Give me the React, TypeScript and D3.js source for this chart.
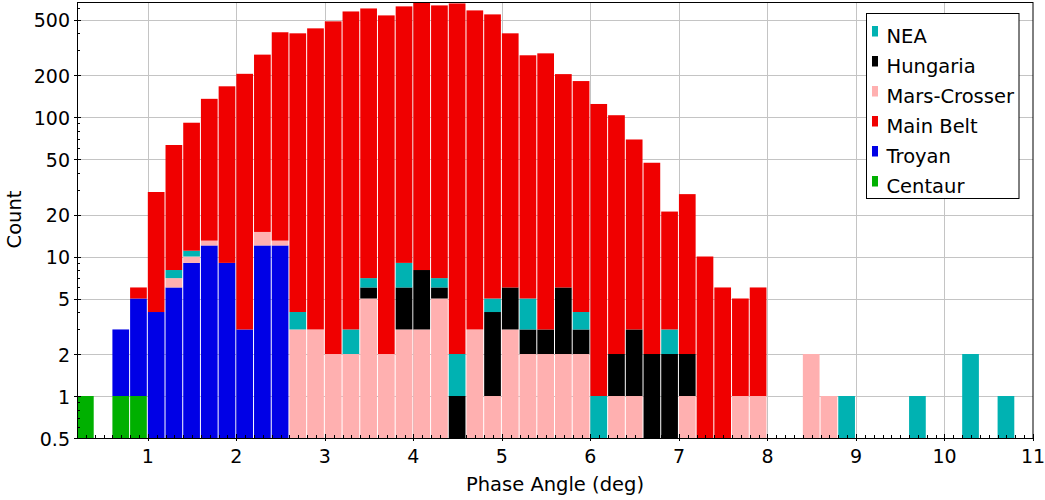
import React from 'react';
import * as d3 from 'd3';

// Histogram bins (start of each 0.2° bin)
const binStarts = [0.2, 0.4, 0.6, 0.8, 1.0, 1.2, 1.4, 1.6, 1.8, 2.0, 2.2, 2.4, 2.6, 2.8, 3.0, 3.2, 3.4, 3.6, 3.8, 4.0,
  4.2, 4.4, 4.6, 4.8, 5.0, 5.2, 5.4, 5.6, 5.8, 6.0, 6.2, 6.4, 6.6, 6.8, 7.0, 7.2, 7.4, 7.6, 7.8, 8.0,
  8.2, 8.4, 8.6, 8.8, 9.0, 9.2, 9.4, 9.6, 9.8, 10.0, 10.2, 10.4, 10.6, 10.8];
const binWidth = 0.2;

const centaur = [1, 0, 1, 1, 0, 0, 0, 0, 0, 0, 0, 0, 0, 0, 0, 0, 0, 0, 0, 0,
  0, 0, 0, 0, 0, 0, 0, 0, 0, 0, 0, 0, 0, 0, 0, 0, 0, 0, 0, 0,
  0, 0, 0, 0, 0, 0, 0, 0, 0, 0, 0, 0, 0, 0];
const troyan = [0, 0, 2, 4, 4, 6, 9, 12, 9, 3, 12, 12, 0, 0, 0, 0, 0, 0, 0, 0,
  0, 0, 0, 0, 0, 0, 0, 0, 0, 0, 0, 0, 0, 0, 0, 0, 0, 0, 0, 0,
  0, 0, 0, 0, 0, 0, 0, 0, 0, 0, 0, 0, 0, 0];
const marsCrosser = [0, 0, 0, 0, 0, 1, 1, 1, 0, 0, 3, 1, 3, 3, 2, 2, 5, 2, 3, 3,
  5, 0, 3, 1, 3, 2, 2, 2, 2, 0, 1, 1, 0, 0, 1, 0, 0, 1, 1, 0,
  0, 2, 1, 0, 0, 0, 0, 0, 0, 0, 0, 0, 0, 0];
const hungaria = [0, 0, 0, 0, 0, 0, 0, 0, 0, 0, 0, 0, 0, 0, 0, 0, 1, 0, 3, 5,
  1, 1, 0, 3, 3, 1, 1, 4, 1, 0, 1, 2, 2, 2, 1, 0, 0, 0, 0, 0,
  0, 0, 0, 0, 0, 0, 0, 0, 0, 0, 0, 0, 0, 0];
const nea = [0, 0, 0, 0, 0, 1, 1, 0, 0, 0, 0, 0, 1, 0, 0, 1, 1, 0, 3, 0,
  1, 1, 0, 1, 0, 2, 0, 0, 1, 1, 0, 0, 0, 1, 0, 0, 0, 0, 0, 0,
  0, 0, 0, 1, 0, 0, 0, 1, 0, 0, 2, 0, 1, 0];
const mainBelt = [0, 0, 0, 1, 25, 55, 80, 122, 157, 201, 265, 392, 394, 429, 483, 568, 593, 533, 612, 650,
  624, 650, 578, 539, 392, 272, 283, 197, 177, 123, 101, 66, 45, 18, 26, 10, 6, 4, 5, 0,
  0, 0, 0, 0, 0, 0, 0, 0, 0, 0, 0, 0, 0, 0];

const xTicks = [1, 2, 3, 4, 5, 6, 7, 8, 9, 10, 11];
const yTicks = [0.5, 1, 2, 5, 10, 20, 50, 100, 200, 500];
const yTickLabels = ['0.5', '1', '2', '5', '10', '20', '50', '100', '200', '500'];

const stackKeys = ['centaur', 'troyan', 'marsCrosser', 'hungaria', 'nea', 'mainBelt'];
const colors: Record<string, string> = {
  nea: '#00b2b2',
  hungaria: '#000000',
  marsCrosser: '#ffb0b0',
  mainBelt: '#f00000',
  troyan: '#0000e6',
  centaur: '#00b000',
};
const legendKeys = ['nea', 'hungaria', 'marsCrosser', 'mainBelt', 'troyan', 'centaur'];
const legendLabels = ['NEA', 'Hungaria', 'Mars-Crosser', 'Main Belt', 'Troyan', 'Centaur'];

const FONT = '"DejaVu Sans", sans-serif';

export default function App() {
  const W = 1045, H = 500;
  const left = 77, right = 1033, top = 2.5, bottom = 438;
  const x = d3.scaleLinear().domain([0.2, 11]).range([left, right]);
  const y = d3.scaleLog().domain([0.5, 662]).range([bottom, top]);

  const rows = binStarts.map((b, i) => ({
    start: b,
    centaur: centaur[i],
    troyan: troyan[i],
    marsCrosser: marsCrosser[i],
    hungaria: hungaria[i],
    nea: nea[i],
    mainBelt: mainBelt[i],
  }));
  const stacked = d3.stack<any>().keys(stackKeys)(rows);

  const minorX: number[] = [];
  for (let k = 3; k < 110; k++) if (k % 10 !== 0) minorX.push(k / 10);
  const minorY: number[] = [];
  for (let n = -1; n <= 2; n++) {
    for (let k = 1; k <= 9; k++) {
      const v = k * Math.pow(10, n);
      if (v > 0.5 && v < 662 && !yTicks.some((t) => Math.abs(t - v) < 1e-9)) minorY.push(v);
    }
  }

  return (
    <svg width={W} height={H} style={{ position: 'absolute', left: 0, top: 0, background: '#fff' }}
      fontFamily={FONT}>
      <defs>
        <clipPath id="plot">
          <rect x={left} y={top} width={right - left} height={bottom - top} />
        </clipPath>
      </defs>
      <rect x={0} y={0} width={W} height={H} fill="#fff" />
      {/* grid */}
      <g stroke="#c4c4c4" strokeWidth={1}>
        {xTicks.filter((t) => t < 11).map((t) => (
          <line key={'gx' + t} x1={Math.round(x(t)) + 0.5} x2={Math.round(x(t)) + 0.5} y1={top} y2={bottom} />
        ))}
        {yTicks.filter((t) => t > 0.5).map((t) => (
          <line key={'gy' + t} x1={left} x2={right} y1={Math.round(y(t)) + 0.5} y2={Math.round(y(t)) + 0.5} />
        ))}
      </g>
      {/* bars */}
      <g clipPath="url(#plot)">
        {stacked.map((s) => (
          <g key={s.key} fill={colors[s.key]}>
            {s.map((d, i) => {
              const v = d[1] - d[0];
              if (v <= 0) return null;
              const lo = Math.max(d[0], 0.5);
              const x0 = x(d.data.start);
              const x1 = x(d.data.start + binWidth);
              return (
                <rect key={i} x={x0} width={x1 - x0 - 1} y={y(d[1])} height={y(lo) - y(d[1])} />
              );
            })}
          </g>
        ))}
      </g>
      {/* frame */}
      <rect x={left + 0.5} y={top} width={right - left - 0.5} height={bottom - top + 0.5} fill="none" stroke="#000" strokeWidth={1} />
      {/* x ticks */}
      <g stroke="#000" strokeWidth={1}>
        {minorX.map((t) => (
          <line key={'mx' + t} x1={Math.round(x(t)) + 0.5} x2={Math.round(x(t)) + 0.5} y1={bottom - 3} y2={bottom} />
        ))}
        {xTicks.map((t) => (
          <line key={'tx' + t} x1={Math.round(x(t)) + 0.5} x2={Math.round(x(t)) + 0.5} y1={bottom - 4} y2={bottom + 3} />
        ))}
        {minorY.map((t) => (
          <line key={'my' + t} x1={left} x2={left + 3} y1={Math.round(y(t)) + 0.5} y2={Math.round(y(t)) + 0.5} />
        ))}
        {yTicks.map((t) => (
          <line key={'ty' + t} x1={left - 3} x2={left + 4} y1={Math.round(y(t)) + 0.5} y2={Math.round(y(t)) + 0.5} />
        ))}
      </g>
      {/* tick labels */}
      <g fontSize={19} fill="#000">
        {xTicks.map((t) => (
          <text key={'lx' + t} x={x(t)} y={463} textAnchor="middle">{t}</text>
        ))}
        {yTicks.map((t, i) => (
          <text key={'ly' + t} x={70} y={y(t) + 7.5} textAnchor="end">{yTickLabels[i]}</text>
        ))}
      </g>
      {/* axis titles */}
      <text x={555} y={491} textAnchor="middle" fontSize={19.5} fill="#000">Phase Angle (deg)</text>
      <text transform="translate(20.5,219.5) rotate(-90)" textAnchor="middle" fontSize={19.5} fill="#000">Count</text>
      {/* legend */}
      <g>
        <rect x={866.5} y={13.5} width={152.5} height={185} fill="#fff" stroke="#000" strokeWidth={1} />
        {legendKeys.map((k, i) => (
          <g key={k}>
            <rect x={872} y={26 + i * 30} width={6} height={10.5} fill={colors[k]} />
            <text x={886.5} y={42.7 + i * 30} fontSize={19.5} fill="#000">{legendLabels[i]}</text>
          </g>
        ))}
      </g>
    </svg>
  );
}
